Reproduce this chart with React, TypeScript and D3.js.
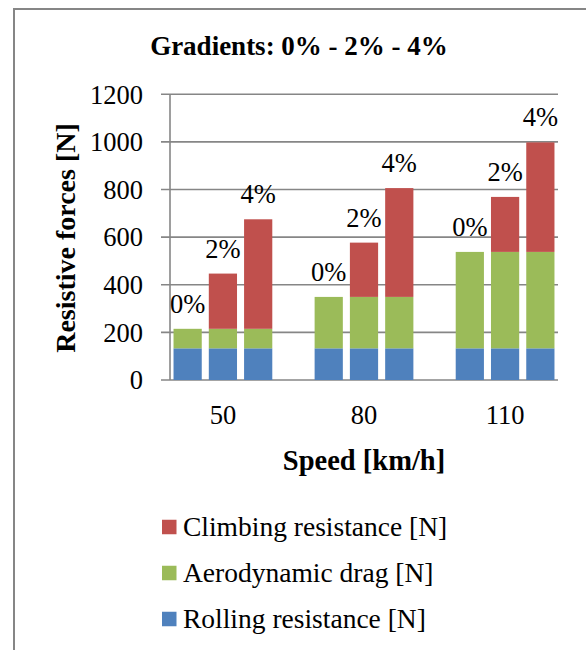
import { useEffect, useRef } from "react"
import * as d3 from "d3"

// chart data
const speeds = ["50", "80", "110"]
const gradients = ["0%", "2%", "4%"]
const rolling = [133, 133, 133, 133, 133, 133, 133, 133, 133]
const aerodynamic = [82, 82, 82, 216, 216, 216, 405, 405, 405]
const climbing = [0, 232, 460, 0, 228, 457, 0, 231, 460]
const yTicks = [0, 200, 400, 600, 800, 1000, 1200]

const seriesNames = ["Rolling resistance [N]", "Aerodynamic drag [N]", "Climbing resistance [N]"]
const seriesColors = ["#4F81BD", "#9BBB59", "#C0504D"]

const W = 586
const H = 650
const FONT = "'Liberation Serif', 'Times New Roman', serif"
const GRID = "#868686"

const App = () => {
    const ref = useRef<SVGSVGElement>(null)

    useEffect(() => {
        document.body.style.margin = "0"

        const svg = d3.select(ref.current)
        svg.selectAll("*").remove()

        // frame of the chart area
        svg.append("line").attr("x1", 13).attr("x2", W).attr("y1", 9).attr("y2", 9)
            .attr("stroke", GRID).attr("stroke-width", 2)
        svg.append("line").attr("x1", 14).attr("x2", 14).attr("y1", 9).attr("y2", H)
            .attr("stroke", GRID).attr("stroke-width", 2)

        // one slot per bar plus an empty slot between speed groups
        const slots: string[] = []
        speeds.forEach((s, gi) => {
            gradients.forEach(g => slots.push(s + "|" + g))
            if (gi < speeds.length - 1) slots.push("gap" + gi)
        })

        const x = d3.scaleBand().domain(slots).range([170, 558]).paddingInner(0.2).paddingOuter(0.1)
        const y = d3.scaleLinear().domain([0, 1200]).range([380, 94.3])

        const rows = speeds.flatMap((s, gi) => gradients.map((g, j) => {
            const i = gi * gradients.length + j
            return { key: s + "|" + g, speed: s, grad: g, rolling: rolling[i], aerodynamic: aerodynamic[i], climbing: climbing[i] }
        }))

        // gridlines
        svg.append("g").selectAll("line").data(yTicks).join("line")
            .attr("x1", 161).attr("x2", 558)
            .attr("y1", d => y(d)).attr("y2", d => y(d))
            .attr("stroke", GRID).attr("stroke-width", 1.6)

        // stacked bars
        const stack = d3.stack<any>().keys(["rolling", "aerodynamic", "climbing"])
        const layers = stack(rows)
        svg.append("g").selectAll("g").data(layers).join("g")
            .attr("fill", (d, i) => seriesColors[i])
            .selectAll("rect").data(d => d.filter(p => p[1] > p[0])).join("rect")
            .attr("x", d => x(d.data.key)!)
            .attr("width", x.bandwidth())
            .attr("y", d => y(d[1]))
            .attr("height", d => y(d[0]) - y(d[1]))

        // y axis line
        svg.append("line").attr("x1", 170).attr("x2", 170).attr("y1", y(1200)).attr("y2", y(0))
            .attr("stroke", GRID).attr("stroke-width", 1.6)

        // y tick labels
        svg.append("g").selectAll("text").data(yTicks).join("text")
            .attr("x", 143).attr("y", d => y(d)).attr("dy", "0.35em")
            .attr("text-anchor", "end")
            .attr("font-family", FONT).attr("font-size", 26.5)
            .text(d => d)

        // gradient labels over each bar
        svg.append("g").selectAll("text").data(rows).join("text")
            .attr("x", d => x(d.key)! + x.bandwidth() / 2)
            .attr("y", d => y(d.rolling + d.aerodynamic + d.climbing) - 16)
            .attr("text-anchor", "middle")
            .attr("font-family", FONT).attr("font-size", 26.5)
            .text(d => d.grad)

        // speed category labels, under the middle bar of each group
        svg.append("g").selectAll("text").data(speeds).join("text")
            .attr("x", s => x(s + "|" + gradients[1])! + x.bandwidth() / 2)
            .attr("y", 424)
            .attr("text-anchor", "middle")
            .attr("font-family", FONT).attr("font-size", 26.5)
            .text(s => s)

        // titles
        svg.append("text").attr("x", 299).attr("y", 55).attr("text-anchor", "middle")
            .attr("font-family", FONT).attr("font-size", 27).attr("font-weight", "bold")
            .text("Gradients: 0% - 2% - 4%")
        svg.append("text").attr("x", 364).attr("y", 470).attr("text-anchor", "middle")
            .attr("font-family", FONT).attr("font-size", 28.5).attr("font-weight", "bold")
            .text("Speed [km/h]")
        svg.append("text").attr("transform", "translate(75,238) rotate(-90)").attr("text-anchor", "middle")
            .attr("font-family", FONT).attr("font-size", 28).attr("font-weight", "bold")
            .text("Resistive forces [N]")

        // legend, top to bottom: climbing, aerodynamic, rolling
        const legendIdx = [2, 1, 0]
        const lg = svg.append("g").selectAll("g").data(legendIdx).join("g")
            .attr("transform", (d, i) => `translate(162,${527 + i * 46})`)
        lg.append("rect").attr("x", 0).attr("y", -7.25).attr("width", 14.5).attr("height", 14.5)
            .attr("fill", d => seriesColors[d])
        lg.append("text").attr("x", 21).attr("y", 0).attr("dy", "0.32em")
            .attr("font-family", FONT).attr("font-size", 27.5)
            .text(d => seriesNames[d])
    }, [])

    return (
        <svg ref={ref} width={W} height={H} style={{ display: "block", background: "#fff" }} />
    )
}

export default App
